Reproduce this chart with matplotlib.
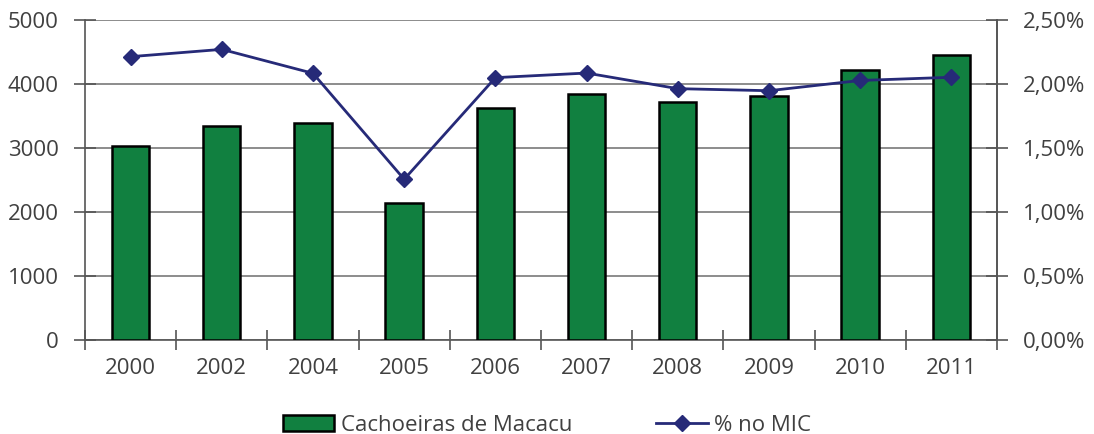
import matplotlib
matplotlib.use("Agg")
import matplotlib.pyplot as plt
import numpy as np
from matplotlib.ticker import FuncFormatter

plt.rcParams['font.family'] = ['Open Sans', 'DejaVu Sans']

years = ["2000", "2002", "2004", "2005", "2006", "2007", "2008", "2009", "2010", "2011"]
cachoeiras = [3040, 3355, 3400, 2150, 3635, 3845, 3720, 3815, 4230, 4460]
pct_mic = [2.216, 2.273, 2.086, 1.258, 2.052, 2.088, 1.966, 1.950, 2.030, 2.055]

bar_color = "#118040"
line_color = "#262A78"
text_color = "#404040"
grid_color = "#8c8c8c"
axis_color = "#555555"
fs = 16

fig = plt.figure(figsize=(10.94, 4.34), dpi=100)
ax = fig.add_axes([0.0777, 0.2159, 0.8336, 0.7373])
x = np.arange(len(years))

ax.bar(x, cachoeiras, width=0.41, color=bar_color, edgecolor="black",
       linewidth=1.8, zorder=3, label="Cachoeiras de Macacu")
ax.set_xlim(-0.5, len(years) - 0.5)
ax.set_ylim(0, 5000)
ax.set_yticks(np.arange(0, 5001, 1000))
ax.yaxis.grid(True, color=grid_color, linewidth=1.4, zorder=0)
ax.set_axisbelow(True)

ax.set_xticks(x)
ax.set_xticklabels(years)
ax.set_xticks(np.arange(-0.5, len(years), 1.0), minor=True)
ax.tick_params(axis="x", which="major", length=0, pad=13,
               labelsize=fs, labelcolor=text_color)
ax.tick_params(axis="x", which="minor", direction="inout", length=15,
               width=1.2, color=axis_color)
ax.tick_params(axis="y", direction="inout", length=16, width=1.2,
               color=axis_color, labelsize=fs, labelcolor=text_color, pad=11)

ax.spines["top"].set_visible(False)
for side in ("left", "right", "bottom"):
    ax.spines[side].set_color(axis_color)
    ax.spines[side].set_linewidth(1.2)

ax2 = ax.twinx()
ax2.plot(x, pct_mic, color=line_color, linewidth=2, marker="D",
         markersize=8, markerfacecolor=line_color, markeredgecolor=line_color,
         zorder=5, label="% no MIC")
ax2.set_ylim(0, 2.5)
ax2.set_yticks(np.arange(0, 2.51, 0.5))
ax2.yaxis.set_major_formatter(FuncFormatter(lambda v, p: f"{v:.2f}".replace(".", ",") + "%"))
ax2.tick_params(axis="y", direction="inout", length=16, width=1.2,
                color=axis_color, labelsize=fs, labelcolor=text_color, pad=11)
for side in ("top", "left", "bottom"):
    ax2.spines[side].set_visible(False)
ax2.spines["right"].set_color(axis_color)
ax2.spines["right"].set_linewidth(1.2)

h1, l1 = ax.get_legend_handles_labels()
h2, l2 = ax2.get_legend_handles_labels()
leg = fig.legend(h1 + h2, l1 + l2, loc="center", bbox_to_anchor=(0.5, 0.02),
                 ncol=2, frameon=False, fontsize=fs, handlelength=2.3,
                 columnspacing=3.8, handletextpad=0.3)
for t in leg.get_texts():
    t.set_color(text_color)

fig.savefig("out.png", dpi=100)
